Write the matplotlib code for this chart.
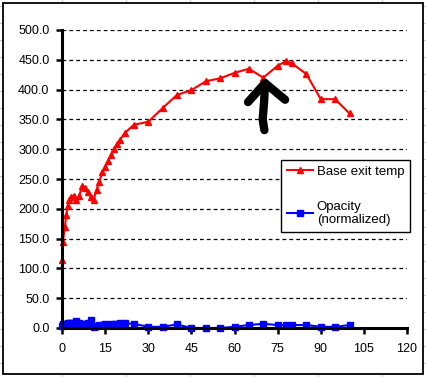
import matplotlib
matplotlib.use("Agg")
import matplotlib.pyplot as plt
from matplotlib.lines import Line2D
from matplotlib.patches import Rectangle

plt.rcParams["font.family"] = ["Liberation Sans", "DejaVu Sans"]

# time / position values shared by both series
x_vals = [0, 0.3, 1, 1.5, 2, 2.5, 3, 4, 5, 6, 7, 8, 9, 10, 11, 12, 13, 14,
          15, 16, 17, 18, 19, 20, 22, 25, 30, 35, 40, 45, 50, 55, 60, 65,
          70, 75, 78, 80, 85, 90, 95, 100]
exit_temp = [114, 145, 170, 190, 205, 215, 220, 222, 215, 222, 238, 235, 228,
             220, 215, 232, 245, 262, 270, 280, 290, 300, 308, 315, 328, 341,
             346, 369, 391, 399, 414, 419, 428, 435, 420, 440, 448, 444, 426,
             384, 384, 360]
opacity = [3, 7, 5, 7, 8, 9, 9, 8, 12, 8, 7, 7, 8, 13, 1, 4, 5, 5, 6, 5, 6,
           7, 7, 9, 8, 7, 2, 2, 6, 0, 0, 0, 2, 5, 7, 5, 5, 5, 5, 2, 2, 5]

x_ticks = [0, 15, 30, 45, 60, 75, 90, 105, 120]
y_ticks = [0, 50, 100, 150, 200, 250, 300, 350, 400, 450, 500]

# hand drawn arrow pointing at the dip near 70
arrow_stem = ([70.4, 69.8, 70.3, 70.6], [332, 350, 380, 411])
arrow_head = ([64.7, 70.6, 77.6], [379, 411, 383])

W, H = 426, 377
fig = plt.figure(figsize=(W / 100, H / 100), dpi=100)
fig.patch.set_facecolor("white")

# spreadsheet cell grid peeking out around the chart
for gx in [62, 126, 190, 254, 318, 382]:
    fig.add_artist(Line2D([gx / W, gx / W], [0, 1], color="#c8c8c8", lw=0.8, zorder=0))
for gy in range(6, 380, 17):
    fig.add_artist(Line2D([0, 1], [1 - gy / H, 1 - gy / H], color="#c8c8c8", lw=0.8, zorder=0))
fig.add_artist(Rectangle((3 / W, 1 - 374 / H), 420 / W, 371 / H, transform=fig.transFigure,
                         facecolor="white", edgecolor="black", lw=1.3, zorder=1))

ax = fig.add_axes([62 / W, 1 - 328 / H, 345 / W, 298 / H], zorder=2)
ax.set_facecolor("none")

ax.plot(x_vals, exit_temp, color="#ff0000", lw=1.5, marker="^", ms=5,
        label="Base exit temp", clip_on=False)
ax.plot(x_vals, opacity, color="#0000ff", lw=1.5, marker="s", ms=5,
        label="Opacity\n(normalized)", clip_on=False)

ax.plot(*arrow_stem, color="black", lw=6, solid_capstyle="round", solid_joinstyle="round")
ax.plot(*arrow_head, color="black", lw=6, solid_capstyle="round", solid_joinstyle="round")

ax.set_xlim(0, 120)
ax.set_ylim(0, 500)
ax.set_xticks(x_ticks)
ax.set_yticks(y_ticks)
ax.set_yticklabels([f"{v:.1f}" for v in y_ticks])
for yv in y_ticks[1:]:
    ax.axhline(yv, color="black", lw=0.9, ls=(0, (3, 2.5)), zorder=0)

for s in ["top", "right"]:
    ax.spines[s].set_visible(False)
for s in ["left", "bottom"]:
    ax.spines[s].set_linewidth(2.2)
ax.tick_params(direction="out", length=4, width=1.8, labelsize=9)
ax.tick_params(axis="x", pad=7)
ax.tick_params(axis="y", pad=5)

leg = ax.legend(loc="upper left", bbox_to_anchor=(0.635, 0.564), borderaxespad=0,
                frameon=True, fancybox=False, framealpha=1, edgecolor="black",
                fontsize=9.5, handlelength=2.0, labelspacing=1.7, borderpad=0.45,
                handletextpad=0.25)
leg.get_frame().set_linewidth(1.0)

fig.savefig("out.png", dpi=100)
